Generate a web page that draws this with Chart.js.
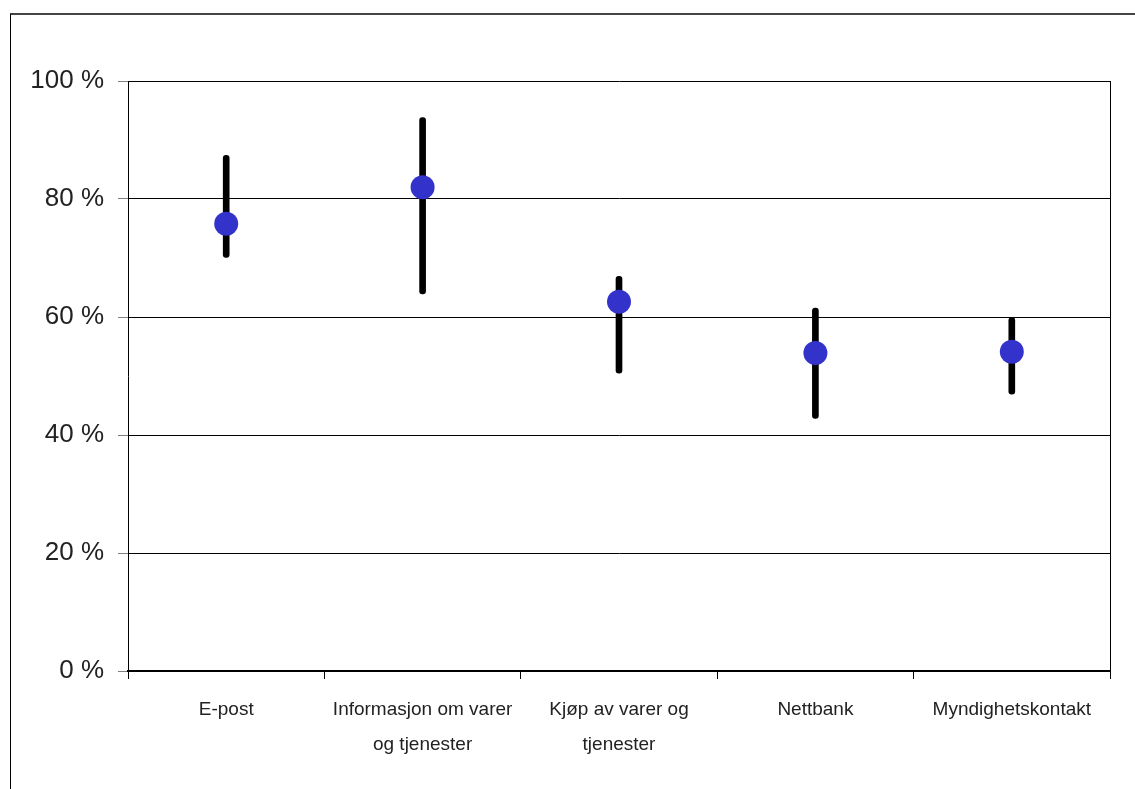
<!DOCTYPE html>
<html>
<head>
<meta charset="utf-8">
<script src="https://cdn.jsdelivr.net/npm/chart.js@4"></script>
<style>
  html, body { margin: 0; padding: 0; background: #fff; overflow: hidden; }
  #wrap { position: relative; width: 1135px; height: 789px; }
  #frame { position: absolute; left: 10px; top: 13px; width: 1200px; height: 900px; border: 1px solid #000; border-top: 2px solid #444; }
  canvas { position: absolute; left: 0; top: 0; }
</style>
</head>
<body>
<div id="wrap">
  <div id="frame"></div>
  <canvas id="chart" width="1135" height="789"></canvas>
</div>
<script>
// DATA
const kategorier = [
    'E-post',
    ['Informasjon om varer', 'og tjenester'],
    ['Kjøp av varer og', 'tjenester'],
    'Nettbank',
    'Myndighetskontakt'
];
const andel = [75.8, 82.0, 62.6, 53.9, 54.1];
const lav = [70.1, 63.9, 50.5, 42.8, 46.9];
const hoy = [87.4, 93.8, 66.9, 61.5, 59.9];
const yTicks = [0, 20, 40, 60, 80, 100];

const fontFam = "'Liberation Sans', Arial, sans-serif";

// linje til høyre i plottet
const plotRamme = {
    id: 'plotRamme',
    afterDraw(chart) {
        const a = chart.chartArea;
        const ctx = chart.ctx;
        ctx.save();
        ctx.strokeStyle = '#000';
        ctx.lineWidth = 1;
        ctx.beginPath();
        ctx.moveTo(a.right + 0.5, a.top);
        ctx.lineTo(a.right + 0.5, a.bottom + 8);
        ctx.stroke();
        ctx.restore();
    }
};

document.addEventListener("DOMContentLoaded", () => {
    const ctx = document.getElementById('chart').getContext('2d');

    new Chart(ctx, {
        type: 'bar',
        data: {
            labels: kategorier,
            datasets: [
                {
                    type: 'line',
                    data: andel,
                    showLine: false,
                    pointRadius: 12,
                    pointHoverRadius: 12,
                    pointBackgroundColor: '#3333CC',
                    pointBorderColor: '#3333CC',
                    pointBorderWidth: 0,
                    order: 0
                },
                {
                    data: lav.map((v, i) => [v, hoy[i]]),
                    backgroundColor: '#000',
                    barThickness: 6,
                    borderRadius: 3,
                    borderSkipped: false,
                    order: 1
                }
            ]
        },
        options: {
            responsive: false,
            animation: false,
            layout: { padding: { left: 0, top: 81, right: 25, bottom: 0 } },
            plugins: {
                legend: { display: false },
                tooltip: { enabled: false }
            },
            scales: {
                x: {
                    offset: true,
                    afterFit: (s) => { s.height = 118; },
                    grid: {
                        offset: true,
                        drawOnChartArea: false,
                        tickLength: 8,
                        color: '#000',
                        lineWidth: 1
                    },
                    border: { color: '#000', width: 2 },
                    ticks: {
                        color: '#222',
                        padding: 13,
                        autoSkip: false,
                        maxRotation: 0,
                        font: { family: fontFam, size: 19, lineHeight: 1.85 }
                    }
                },
                y: {
                    min: 0,
                    max: 100,
                    afterFit: (s) => { s.width = 128; },
                    afterBuildTicks: (s) => { s.ticks = yTicks.map(v => ({ value: v })); },
                    grid: {
                        color: '#000',
                        lineWidth: 1,
                        tickLength: 10,
                        tickColor: '#808080'
                    },
                    border: { color: '#000', width: 1 },
                    ticks: {
                        color: '#222',
                        padding: 14,
                        font: { family: fontFam, size: 26 },
                        callback: (v) => v + ' %'
                    }
                }
            }
        },
        plugins: [plotRamme]
    });
});
</script>
</body>
</html>
